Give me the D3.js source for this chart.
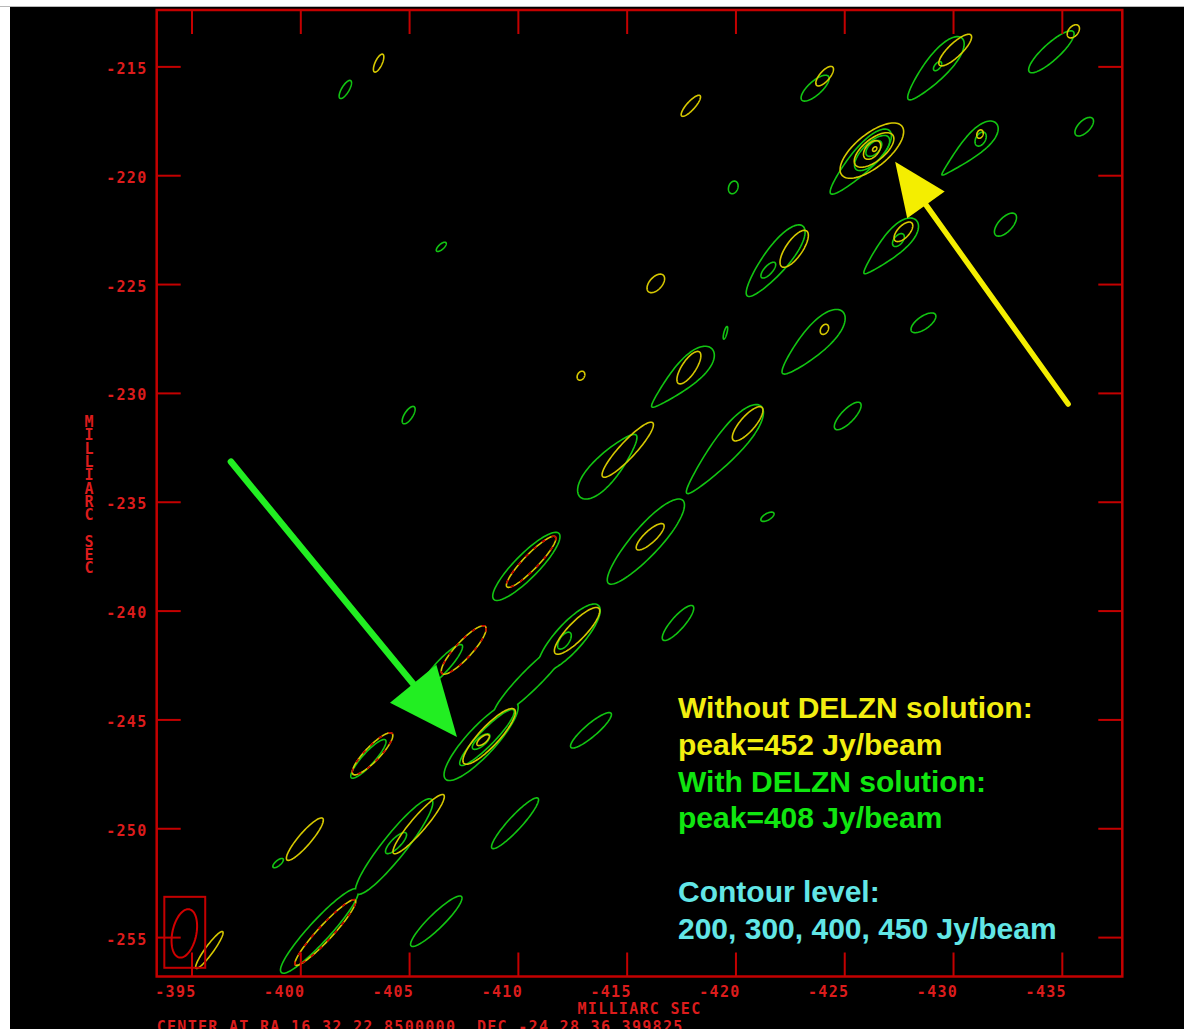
<!DOCTYPE html>
<html>
<head>
<meta charset="utf-8">
<script src="https://cdn.jsdelivr.net/npm/d3@7"></script>
<style>
  html, body { margin: 0; padding: 0; background: #ffffff; }
  svg { display: block; }
</style>
</head>
<body>
<svg id="plot" width="1184" height="1029"></svg>
<script>
// ---- Map geometry (milliarcsec offsets) ----
const xTicks = [-395, -400, -405, -410, -415, -420, -425, -430, -435];
const yTicks = [-215, -220, -225, -230, -235, -240, -245, -250, -255];
const xExtent = [-393.4, -437.78];
const yExtent = [-212.41, -256.81];

const contourLevels = [200, 300, 400, 450];   // Jy/beam
const peakWithout = 452;
const peakWith = 408;

// Contours as elliptical outlines: centre (x, y) in mas, semi-axes a, b in mas,
// position angle pa in degrees (north through east), k = taper along the major axis.
const contoursWith = [
  {x:-402.07, y:-216.06, a:0.475, b:0.17, pa:-31, lev:200},
  {x:-419.90, y:-220.56, a:0.30, b:0.21, pa:-20, lev:200},
  {x:-406.48, y:-223.29, a:0.29, b:0.12, pa:-48, lev:200},
  {x:-419.54, y:-227.24, a:0.30, b:0.07, pa:-15, lev:200},
  {x:-404.98, y:-231.02, a:0.46, b:0.19, pa:-33, lev:200},
  {x:-417.54, y:-229.31, a:1.92, b:0.55, pa:-46, k:0.5, lev:200},
  {x:-421.82, y:-223.94, a:2.05, b:0.57, pa:-38.5, k:0.2, lev:200},
  {x:-421.51, y:-224.36, a:0.46, b:0.19, pa:-42, lev:300},
  {x:-427.11, y:-223.29, a:1.71, b:0.50, pa:-44.3, k:0.5, lev:200},
  {x:-427.49, y:-222.98, a:0.35, b:0.20, pa:-40, lev:300},
  {x:-432.41, y:-222.27, a:0.66, b:0.32, pa:-43, lev:200},
  {x:-428.64, y:-226.78, a:0.67, b:0.29, pa:-54.7, lev:200},
  {x:-423.55, y:-227.69, a:1.98, b:0.60, pa:-44.2, k:0.35, lev:200},
  {x:-425.16, y:-231.06, a:0.83, b:0.30, pa:-44, lev:200},
  {x:-414.15, y:-233.36, a:1.92, b:0.60, pa:-42, k:-0.3, lev:200},
  {x:-419.47, y:-232.61, a:2.63, b:0.60, pa:-40.4, k:0.4, lev:200},
  {x:-415.87, y:-236.84, a:2.56, b:0.65, pa:-41.8, k:0.1, lev:200},
  {x:-421.47, y:-235.69, a:0.34, b:0.15, pa:-60, lev:200},
  {x:-410.39, y:-237.97, a:2.13, b:0.55, pa:-44.6, lev:200},
  {x:-417.36, y:-240.57, a:1.04, b:0.30, pa:-41.4, lev:200},
  {x:-408.31, y:-245.99, a:2.36, b:0.62, pa:-42.8, lev:200, grp:"jetA"},
  {x:-410.67, y:-243.08, a:2.44, b:0.42, pa:-45, lev:200, grp:"jetA"},
  {x:-412.35, y:-241.26, a:1.98, b:0.60, pa:-42, lev:200, grp:"jetA"},
  {x:-412.14, y:-241.38, a:0.45, b:0.22, pa:-35, lev:300},
  {x:-408.58, y:-245.83, a:1.76, b:0.36, pa:-44.2, lev:300},
  {x:-408.31, y:-246.02, a:0.50, b:0.20, pa:-50, lev:400},
  {x:-413.36, y:-245.50, a:1.21, b:0.29, pa:-49.6, lev:200},
  {x:-406.51, y:-242.58, a:1.36, b:0.30, pa:-42.7, lev:200},
  {x:-403.13, y:-246.81, a:1.17, b:0.28, pa:-42, lev:200},
  {x:-398.98, y:-251.60, a:0.30, b:0.12, pa:-50, lev:200},
  {x:-404.31, y:-250.84, a:2.73, b:0.50, pa:-38.5, lev:200, grp:"jetB"},
  {x:-400.88, y:-254.72, a:2.55, b:0.45, pa:-42.5, lev:200, grp:"jetB"},
  {x:-404.40, y:-250.68, a:0.65, b:0.22, pa:-45, lev:300},
  {x:-409.87, y:-249.77, a:1.56, b:0.31, pa:-42.6, lev:200},
  {x:-406.25, y:-254.27, a:1.62, b:0.34, pa:-45.6, lev:200},
  {x:-423.66, y:-216.00, a:0.82, b:0.31, pa:-48, lev:200},
  {x:-429.18, y:-215.11, a:1.87, b:0.53, pa:-41.2, k:0.3, lev:200},
  {x:-429.29, y:-214.99, a:0.25, b:0.13, pa:-40, lev:300},
  {x:-434.52, y:-214.33, a:1.37, b:0.38, pa:-47.7, lev:200},
  {x:-436.03, y:-217.77, a:0.54, b:0.27, pa:-45, lev:200},
  {x:-425.73, y:-219.40, a:1.98, b:0.53, pa:-43, k:0.3, lev:200},
  {x:-426.28, y:-218.98, a:1.05, b:0.45, pa:-45, lev:300},
  {x:-426.36, y:-218.77, a:0.45, b:0.25, pa:-45, lev:400},
  {x:-430.74, y:-218.80, a:1.72, b:0.45, pa:-46.4, k:0.6, lev:200},
  {x:-431.27, y:-218.34, a:0.35, b:0.22, pa:-30, lev:300}
];

const contoursWithout = [
  {x:-403.60, y:-214.85, a:0.45, b:0.16, pa:-25, lev:200},
  {x:-417.95, y:-216.81, a:0.63, b:0.19, pa:-42, lev:200},
  {x:-416.34, y:-224.97, a:0.51, b:0.29, pa:-42, lev:200},
  {x:-412.90, y:-229.21, a:0.22, b:0.16, pa:-30, lev:200},
  {x:-417.86, y:-228.84, a:0.87, b:0.32, pa:-33.6, lev:200},
  {x:-422.70, y:-223.38, a:1.00, b:0.38, pa:-34.8, lev:200},
  {x:-427.72, y:-222.60, a:0.56, b:0.27, pa:-43, lev:200},
  {x:-424.09, y:-227.08, a:0.25, b:0.17, pa:-30, lev:200},
  {x:-415.05, y:-232.61, a:1.69, b:0.37, pa:-42.8, lev:200},
  {x:-420.56, y:-231.42, a:1.00, b:0.34, pa:-41, lev:200},
  {x:-416.08, y:-236.61, a:0.84, b:0.27, pa:-47, lev:200},
  {x:-410.61, y:-237.76, a:1.60, b:0.34, pa:-44, lev:200, dash:true},
  {x:-412.72, y:-240.93, a:1.44, b:0.41, pa:-44, lev:200},
  {x:-407.51, y:-241.81, a:1.47, b:0.38, pa:-42.5, lev:200, dash:true},
  {x:-408.68, y:-245.78, a:1.70, b:0.45, pa:-43, lev:200},
  {x:-408.40, y:-245.95, a:0.35, b:0.15, pa:-50, lev:400},
  {x:-403.32, y:-246.58, a:1.30, b:0.34, pa:-43.8, lev:200, dash:true},
  {x:-400.21, y:-250.50, a:1.26, b:0.29, pa:-40.6, lev:200},
  {x:-405.44, y:-249.81, a:1.77, b:0.34, pa:-40.6, lev:200},
  {x:-401.15, y:-254.79, a:2.03, b:0.34, pa:-42.7, lev:200, dash:true},
  {x:-395.82, y:-255.59, a:1.04, b:0.19, pa:-36, lev:200},
  {x:-424.10, y:-215.45, a:0.56, b:0.23, pa:-41, lev:200},
  {x:-430.10, y:-214.25, a:1.00, b:0.31, pa:-46.3, lev:200},
  {x:-435.53, y:-213.39, a:0.35, b:0.22, pa:-40, lev:200},
  {x:-426.27, y:-218.87, a:1.78, b:0.76, pa:-50.8, lev:200},
  {x:-426.37, y:-218.84, a:1.10, b:0.50, pa:-51, lev:300},
  {x:-426.28, y:-218.84, a:0.50, b:0.30, pa:-40, lev:400},
  {x:-426.40, y:-218.80, a:0.12, b:0.08, pa:-40, lev:450},
  {x:-431.24, y:-218.11, a:0.20, b:0.14, pa:-20, lev:200}
];

// Restoring beam (mas, deg) and the box drawn round it
const beam = {x:-394.67, y:-254.83, bmaj:1.13, bmin:0.55, pa:-12};
const beamBox = {x0:-393.75, x1:-395.63, y0:-253.15, y1:-256.41};

// Pointer arrows: tail and tip positions in mas
const arrowTails = [[-435.29, -230.51], [-396.81, -233.16]];
const arrowTips  = [[-427.34, -219.38], [-407.20, -245.81]];

const noteWithout = ["Without DELZN solution:", `peak=${peakWithout} Jy/beam`];
const noteWith = ["With DELZN solution:", `peak=${peakWith} Jy/beam`];
const noteLevels = ["Contour level:", contourLevels.join(", ") + " Jy/beam"];

const axisTitle = "MILLIARC SEC";
const centreText = "CENTER AT RA 16 32 22.8500000  DEC -24 28 36.399825";

// ---- Drawing ----
const W = 1184, H = 1029;
const fL = 156.7, fR = 1122.3, fT = 10, fB = 976.5;
const red = "#c40000", redText = "#dc1c1c";
const greenLine = "#12c412", yellowLine = "#d6c800";
const mono = "'DejaVu Sans Mono', monospace";

const svg = d3.select("#plot");
svg.append("rect").attr("x", 10).attr("y", 7).attr("width", W - 10).attr("height", H - 7).attr("fill", "#000");
svg.append("line").attr("x1", 0).attr("x2", W).attr("y1", 6.5).attr("y2", 6.5)
  .attr("stroke", "#b8b8b8").attr("stroke-width", 1);

const x = d3.scaleLinear().domain(xExtent).range([fL, fR]);
const y = d3.scaleLinear().domain(yExtent).range([fT, fB]);

const defs = svg.append("defs");
defs.append("clipPath").attr("id", "frameClip")
  .append("rect").attr("x", fL).attr("y", fT).attr("width", fR - fL).attr("height", fB - fT);

function outline(c, n = 90) {
  const p = c.pa * Math.PI / 180;
  const ux = Math.sin(p), uy = Math.cos(p);      // major axis (east, north)
  const vx = Math.cos(p), vy = -Math.sin(p);     // minor axis
  const k = c.k || 0;
  return d3.range(n).map(i => {
    const t = i / n * 2 * Math.PI;
    const u = c.a * Math.cos(t);
    const w = c.b * Math.sin(t) * (1 + k * Math.cos(t));
    return [c.x + u * ux + w * vx, c.y + u * uy + w * vy];
  });
}
const contourLine = d3.line().x(d => x(d[0])).y(d => y(d[1])).curve(d3.curveLinearClosed);

const plotArea = svg.append("g").attr("clip-path", "url(#frameClip)");

function drawSet(data, colour, tag) {
  const layer = plotArea.append("g");
  const single = data.filter(d => !d.grp);
  layer.selectAll("path.single").data(single).join("path")
    .attr("class", "single")
    .attr("d", d => contourLine(outline(d)))
    .attr("fill", "none").attr("stroke", colour).attr("stroke-width", 1.6)
    .attr("stroke-linejoin", "round");
  // merged outlines: only the outer envelope of each group is shown
  const groups = d3.group(data.filter(d => d.grp), d => d.grp);
  for (const [name, members] of groups) {
    const id = `mask-${tag}-${name}`;
    const m = defs.append("mask").attr("id", id).attr("maskUnits", "userSpaceOnUse")
      .attr("x", 0).attr("y", 0).attr("width", W).attr("height", H);
    m.append("rect").attr("x", 0).attr("y", 0).attr("width", W).attr("height", H).attr("fill", "#fff");
    m.selectAll("path").data(members).join("path").attr("d", d => contourLine(outline(d))).attr("fill", "#000");
    layer.append("g").attr("mask", `url(#${id})`)
      .selectAll("path").data(members).join("path")
      .attr("d", d => contourLine(outline(d)))
      .attr("fill", "none").attr("stroke", colour).attr("stroke-width", 3.2);
  }
  layer.selectAll("path.dash").data(data.filter(d => d.dash)).join("path")
    .attr("class", "dash")
    .attr("d", d => contourLine(outline(d)))
    .attr("fill", "none").attr("stroke", "#c80000").attr("stroke-width", 1.6)
    .attr("stroke-dasharray", "4 7");
}
drawSet(contoursWith, greenLine, "g");
drawSet(contoursWithout, yellowLine, "y");

// beam
svg.append("rect")
  .attr("x", x(beamBox.x0)).attr("y", y(beamBox.y0))
  .attr("width", x(beamBox.x1) - x(beamBox.x0)).attr("height", y(beamBox.y1) - y(beamBox.y0))
  .attr("fill", "none").attr("stroke", red).attr("stroke-width", 2);
svg.append("path")
  .attr("d", contourLine(outline({x: beam.x, y: beam.y, a: beam.bmaj, b: beam.bmin, pa: beam.pa})))
  .attr("fill", "none").attr("stroke", "#d00000").attr("stroke-width", 2);

// axes: inward ticks on all four sides
function styleTicks(g) {
  g.select(".domain").remove();
  g.selectAll(".tick line").attr("stroke", red).attr("stroke-width", 2);
  g.attr("font-family", mono).attr("font-size", 15).attr("font-weight", "bold");
  g.selectAll(".tick text").attr("fill", redText).attr("letter-spacing", 1.3);
}
const fmt = d => String(d);
const gBottom = svg.append("g").attr("transform", `translate(0,${fB})`)
  .call(d3.axisBottom(x).tickValues(xTicks).tickSize(-24).tickSizeOuter(0).tickFormat(fmt));
styleTicks(gBottom);
gBottom.selectAll(".tick text").attr("text-anchor", "end").attr("x", 4.6).attr("y", 20).attr("dy", null);

const gLeft = svg.append("g").attr("transform", `translate(${fL},0)`)
  .call(d3.axisLeft(y).tickValues(yTicks).tickSize(-24).tickSizeOuter(0).tickFormat(fmt));
styleTicks(gLeft);
gLeft.selectAll(".tick text").attr("text-anchor", "end").attr("x", -9.2).attr("y", 7).attr("dy", null);

const gTop = svg.append("g").attr("transform", `translate(0,${fT})`)
  .call(d3.axisTop(x).tickValues(xTicks).tickSize(-24).tickSizeOuter(0).tickFormat(""));
styleTicks(gTop);
const gRight = svg.append("g").attr("transform", `translate(${fR},0)`)
  .call(d3.axisRight(y).tickValues(yTicks).tickSize(-24).tickSizeOuter(0).tickFormat(""));
styleTicks(gRight);

svg.append("rect").attr("x", fL).attr("y", fT).attr("width", fR - fL).attr("height", fB - fT)
  .attr("fill", "none").attr("stroke", red).attr("stroke-width", 2.5);

// axis titles
svg.append("text").attr("x", (fL + fR) / 2).attr("y", 1014).attr("text-anchor", "middle")
  .attr("font-family", mono).attr("font-size", 15).attr("font-weight", "bold")
  .attr("letter-spacing", 1.3).attr("fill", redText).text(axisTitle);
// vertical title: upright letters stacked in one text element
const titleChars = axisTitle.split("");
svg.append("text")
  .attr("x", titleChars.map(() => 89).join(" "))
  .attr("y", titleChars.map((c, i) => 427 + i * 13.3).join(" "))
  .attr("text-anchor", "middle")
  .attr("font-family", mono).attr("font-size", 15).attr("font-weight", "bold")
  .attr("fill", redText).style("white-space", "pre").text(axisTitle);
svg.append("text").attr("x", fL).attr("y", 1031.5)
  .attr("font-family", mono).attr("font-size", 15).attr("font-weight", "bold")
  .attr("letter-spacing", 1.3).attr("fill", redText)
  .style("white-space", "pre").text(centreText);

// arrows
const arrowStyle = [
  {colour: "#f4ee00", shaft: 5.5, headLen: 53, headHalf: 23},
  {colour: "#22ee22", shaft: 6.5, headLen: 69, headHalf: 30}
];
arrowTails.forEach((t, i) => {
  const s = arrowStyle[i];
  const x0 = x(t[0]), y0 = y(t[1]);
  const x1 = x(arrowTips[i][0]), y1 = y(arrowTips[i][1]);
  const L = Math.hypot(x1 - x0, y1 - y0);
  const ux = (x1 - x0) / L, uy = (y1 - y0) / L;
  const bx = x1 - ux * s.headLen, by = y1 - uy * s.headLen;
  svg.append("line").attr("x1", x0).attr("y1", y0).attr("x2", bx + ux * 4).attr("y2", by + uy * 4)
    .attr("stroke", s.colour).attr("stroke-width", s.shaft).attr("stroke-linecap", "round");
  svg.append("polygon")
    .attr("points", [[x1, y1], [bx - uy * s.headHalf, by + ux * s.headHalf], [bx + uy * s.headHalf, by - ux * s.headHalf]].map(p => p.join(",")).join(" "))
    .attr("fill", s.colour);
});

// legend notes
const notes = [
  {lines: noteWithout, colour: "#f2ee10"},
  {lines: noteWith, colour: "#10e610"},
  {lines: [""], colour: "#000"},
  {lines: noteLevels, colour: "#62e6e6"}
];
let row = 0;
const noteG = svg.append("g").attr("font-family", "'Liberation Sans', Arial, sans-serif")
  .attr("font-size", 30).attr("font-weight", "bold");
notes.forEach(n => {
  n.lines.forEach(l => {
    if (l) noteG.append("text").attr("x", 678).attr("y", 718.3 + row * 36.7).attr("fill", n.colour).text(l);
    row++;
  });
});
</script>
</body>
</html>
